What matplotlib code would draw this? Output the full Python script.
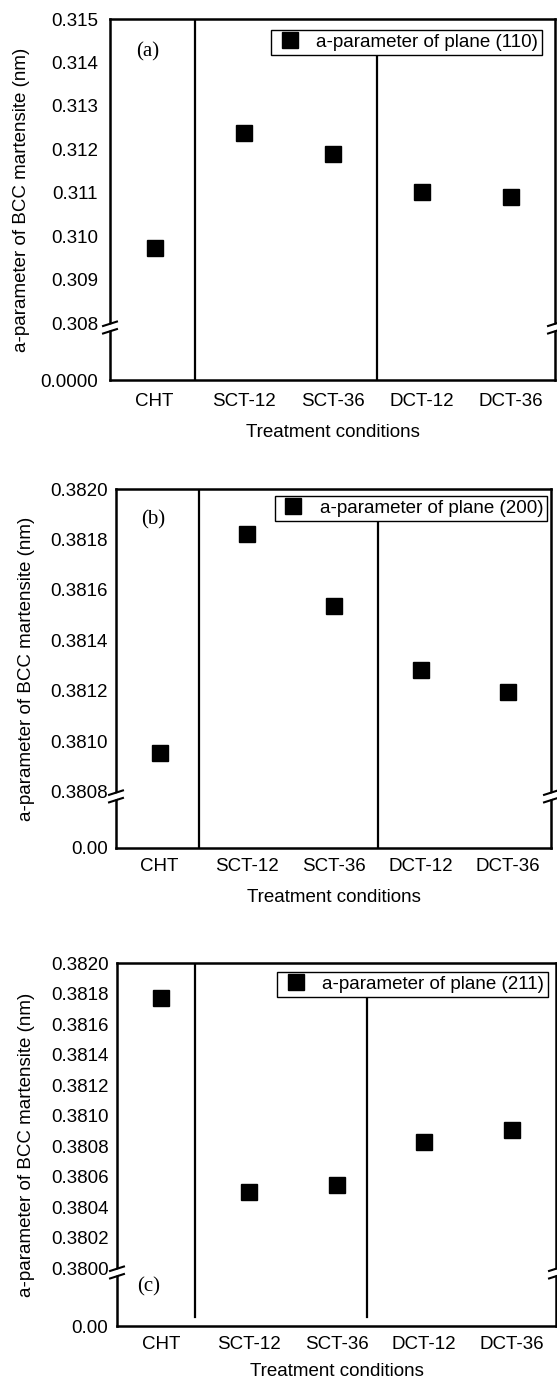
import numpy as np
import matplotlib
matplotlib.use('Agg')
import matplotlib.pyplot as plt
from matplotlib import transforms
from matplotlib.lines import Line2D
from matplotlib.patches import Polygon
from matplotlib.ticker import FixedLocator, FixedFormatter, NullLocator

plt.rcParams['font.family'] = ['Liberation Sans', 'DejaVu Sans']

# ---------------- data ----------------
categories = ['CHT', 'SCT-12', 'SCT-36', 'DCT-12', 'DCT-36']
a_110 = [0.30972, 0.31237, 0.31189, 0.31101, 0.31090]
a_200 = [0.380954, 0.381822, 0.381537, 0.381283, 0.381196]
a_211 = [0.381770, 0.380498, 0.380544, 0.380826, 0.380905]

ticks_110 = [0.0, 0.308, 0.309, 0.310, 0.311, 0.312, 0.313, 0.314, 0.315]
labels_110 = ['0.0000', '0.308', '0.309', '0.310', '0.311', '0.312', '0.313', '0.314', '0.315']
ticks_200 = [0.0, 0.3808, 0.3810, 0.3812, 0.3814, 0.3816, 0.3818, 0.3820]
labels_200 = ['0.00', '0.3808', '0.3810', '0.3812', '0.3814', '0.3816', '0.3818', '0.3820']
ticks_211 = [0.0, 0.3800, 0.3802, 0.3804, 0.3806, 0.3808, 0.3810, 0.3812,
             0.3814, 0.3816, 0.3818, 0.3820]
labels_211 = ['0.00', '0.3800', '0.3802', '0.3804', '0.3806', '0.3808', '0.3810',
              '0.3812', '0.3814', '0.3816', '0.3818', '0.3820']

legend_labels = ['a-parameter of plane (110)', 'a-parameter of plane (200)',
                 'a-parameter of plane (211)']
panel_tags = ['(a)', '(b)', '(c)']
ylabel = 'a-parameter of BCC martensite (nm)'
xlabel = 'Treatment conditions'

# ---------------- layout ----------------
W, H = 557, 1381
FS = 13.5


def rect(l, r, t, b):
    return [l / W, (H - b) / H, (r - l) / W, (b - t) / H]


panels = [
    dict(values=a_110, ticks=ticks_110, labels=labels_110, brk=0.308, gap=0.00131,
         top=0.315, rect=rect(110, 555, 19, 380), ypad=8.6, xpad=9.5, lpad=10,
         seps=[(1.45, 0.0, 1.0), (3.5, 0.0, 0.895)], leg=(0.971, 0.9695),
         tag=(0.085, 0.9086), ylab_x=-0.1795),
    dict(values=a_200, ticks=ticks_200, labels=labels_200, brk=0.3808, gap=0.000222,
         top=0.3820, rect=rect(116, 551, 489, 848), ypad=5.8, xpad=7.5, lpad=10,
         seps=[(1.45, 0.0, 1.0), (3.51, 0.0, 0.908)], leg=(0.9908, 0.9805),
         tag=(0.085, 0.9136), ylab_x=-0.1865),
    dict(values=a_211, ticks=ticks_211, labels=labels_211, brk=0.3800, gap=0.00038,
         top=0.3820, rect=rect(117, 556, 963, 1326), ypad=6.2, xpad=7.5, lpad=7,
         seps=[(1.39, 0.025, 1.0), (3.35, 0.025, 0.906)], leg=(0.9818, 0.975),
         tag=(0.073, 0.1074), ylab_x=-0.187),
]


def make_scale(b, G):
    def fwd(y):
        y = np.asarray(y, float)
        return np.where(y >= b, y, b - G + y / b * G)

    def inv(x):
        x = np.asarray(x, float)
        return np.where(x >= b, x, (x - (b - G)) / G * b)
    return fwd, inv


def break_marks(fig, ax, b):
    blend = transforms.blended_transform_factory(ax.transAxes, ax.transData)
    for xa in (0, 1):
        tr = (transforms.Affine2D().scale(1 / 72.) + fig.dpi_scale_trans
              + transforms.ScaledTranslation(xa, b, blend))
        poly = Polygon([(-2.5, -1.9), (2.5, -0.3), (2.5, -4.5), (-2.5, -6.1)],
                       closed=True, facecolor='white', edgecolor='none',
                       transform=tr, clip_on=False, zorder=5)
        ax.add_patch(poly)
        for (x0, y0, x1, y1) in [(-5, -2.1, 5, 1.1), (-5, -7.5, 5, -4.3)]:
            ax.add_line(Line2D([x0, x1], [y0, y1], color='black', lw=1.5,
                               transform=tr, clip_on=False, zorder=6))


fig = plt.figure(figsize=(W / 100, H / 100), dpi=100)
x = np.arange(1, len(categories) + 1)

for i, p in enumerate(panels):
    ax = fig.add_axes(p['rect'])
    ax.set_yscale('function', functions=make_scale(p['brk'], p['gap']))
    ax.plot(x, p['values'], linestyle='none', marker='s', markersize=11,
            color='black', label=legend_labels[i], zorder=4)
    ax.set_xlim(0.5, 5.5)
    ax.set_ylim(0.0, p['top'])
    ax.yaxis.set_major_locator(FixedLocator(p['ticks']))
    ax.yaxis.set_major_formatter(FixedFormatter(p['labels']))
    ax.yaxis.set_minor_locator(NullLocator())
    ax.set_xticks(x)
    ax.set_xticklabels(categories)
    ax.tick_params(axis='y', length=0, pad=p['ypad'], labelsize=FS)
    ax.tick_params(axis='x', length=0, pad=p['xpad'], labelsize=FS)
    for s in ax.spines.values():
        s.set_linewidth(1.8)
    for (sx, y0, y1) in p['seps']:
        ax.axvline(sx, ymin=y0, ymax=y1, color='black', lw=1.6, zorder=3)
    ax.set_ylabel(ylabel, fontsize=FS)
    ax.yaxis.set_label_coords(p['ylab_x'], 0.5)
    ax.set_xlabel(xlabel, fontsize=FS, labelpad=p['lpad'])
    leg = ax.legend(loc='upper right', bbox_to_anchor=p['leg'],
                    bbox_transform=ax.transAxes, borderaxespad=0, frameon=True,
                    fancybox=False, edgecolor='black', framealpha=1, borderpad=0.2,
                    handlelength=1.6, handletextpad=0.6, numpoints=1, fontsize=FS)
    leg.get_frame().set_linewidth(1.0)
    ax.text(p['tag'][0], p['tag'][1], panel_tags[i], transform=ax.transAxes,
            family=['Liberation Serif', 'DejaVu Serif'], fontsize=15,
            ha='center', va='center')
    break_marks(fig, ax, p['brk'])

fig.savefig('out.png', dpi=100)
